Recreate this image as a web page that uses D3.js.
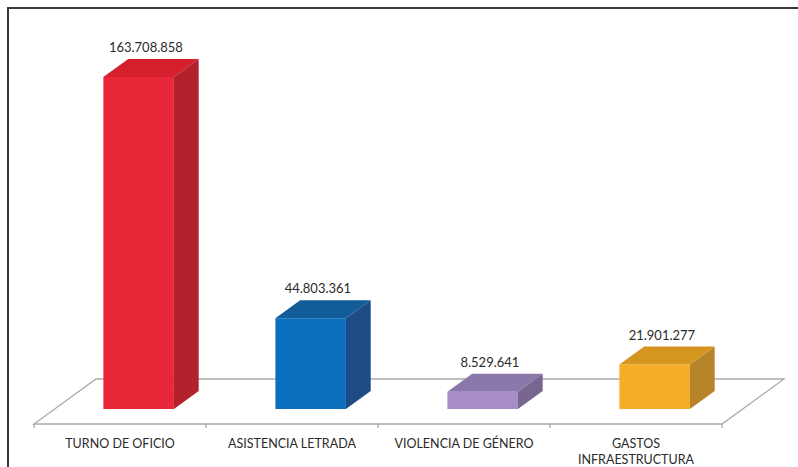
<!DOCTYPE html>
<html>
<head>
<meta charset="utf-8">
<script src="https://cdn.jsdelivr.net/npm/d3@7"></script>
<style>
  body { margin: 0; background: #fff; }
  svg { display: block; font-family: Lato, "Liberation Sans", sans-serif; }
</style>
</head>
<body>
<div id="chart-area"></div>
<script>
var categories = ["TURNO DE OFICIO", "ASISTENCIA LETRADA", "VIOLENCIA DE GÉNERO", "GASTOS INFRAESTRUCTURA"];
var labelLines = [["TURNO DE OFICIO"], ["ASISTENCIA LETRADA"], ["VIOLENCIA DE GÉNERO"], ["GASTOS", "INFRAESTRUCTURA"]];
var values = [163708858, 44803361, 8529641, 21901277];
var valueLabels = ["163.708.858", "44.803.361", "8.529.641", "21.901.277"];
var frontColors = ["#e82838", "#0a6fbd", "#a68dc6", "#f6ae28"];
var topColors = ["#d51f2c", "#125c99", "#8a78aa", "#d4961e"];
var sideColors = ["#b3222c", "#1e4a86", "#776690", "#b8842a"];

var width = 798;
var height = 467;

var svg = d3.select('#chart-area')
    .append('svg')
        .attr('width', width)
        .attr('height', height);

// outer frame (only top and left edges are visible in the crop)
svg.append("rect")
    .attr("x", 8).attr("y", 8)
    .attr("width", 900).attr("height", 600)
    .attr("fill", "none")
    .attr("stroke", "#3a3a3a")
    .attr("stroke-width", 2);

// floor geometry
var baseY = 424;       // front edge of the floor
var depthX = 62;       // horizontal shift for full depth
var depthY = 45;       // vertical shift for full depth

var x = d3.scaleBand()
    .domain(categories)
    .range([34, 722])
    .padding(0);

var y = d3.scaleLinear()
    .domain([0, 180000000])
    .range([0, 365]);

var z = d3.scaleLinear().domain([0, 1]).range([0, 1]);

function proj(px, h, d) {
    return [px + z(d) * depthX, baseY - h - z(d) * depthY];
}
function poly(pts) {
    return pts.map(function (p) { return p.join(","); }).join(" ");
}

var x0 = x.range()[0], x1 = x.range()[1];

// floor
svg.append("polygon")
    .attr("points", poly([proj(x0, 0, 0), proj(x1, 0, 0), proj(x1, 0, 1), proj(x0, 0, 1)]))
    .attr("fill", "#fff")
    .attr("stroke", "#a9a9a9")
    .attr("stroke-width", 1.3);

// ticks on the front edge
var tickPos = categories.map(function (c) { return x(c); }).concat([x1]);
svg.selectAll(".tick")
    .data(tickPos)
    .enter().append("line")
        .attr("class", "tick")
        .attr("x1", function (d) { return d; })
        .attr("x2", function (d) { return d; })
        .attr("y1", baseY)
        .attr("y2", baseY + 4)
        .attr("stroke", "#a9a9a9")
        .attr("stroke-width", 1.3);

var barW = x.bandwidth() * 0.41;
var z0 = 0.333, z1 = 0.733;

var bars = svg.selectAll(".bar")
    .data(values)
    .enter().append("g")
        .attr("class", "bar");

bars.each(function (v, i) {
    var g = d3.select(this);
    var xl = x(categories[i]) + (x.bandwidth() - barW) / 2 - 2;
    var xr = xl + barW;
    var h = y(v);

    g.append("polygon")
        .attr("points", poly([proj(xl, 0, z0), proj(xr, 0, z0), proj(xr, h, z0), proj(xl, h, z0)]))
        .attr("fill", frontColors[i]);
    g.append("polygon")
        .attr("points", poly([proj(xl, h, z0), proj(xr, h, z0), proj(xr, h, z1), proj(xl, h, z1)]))
        .attr("fill", topColors[i]);
    g.append("polygon")
        .attr("points", poly([proj(xr, 0, z0), proj(xr, 0, z1), proj(xr, h, z1), proj(xr, h, z0)]))
        .attr("fill", sideColors[i]);

    var lp = proj((xl + xr) / 2, h, 0.45);
    g.append("text")
        .attr("x", lp[0])
        .attr("y", proj(xl, h, z1)[1] - 7)
        .attr("text-anchor", "middle")
        .attr("font-size", "13px")
        .attr("fill", "#2b2b2b")
        .text(valueLabels[i]);
});

// category labels
svg.selectAll(".cat")
    .data(categories)
    .enter().append("text")
        .attr("class", "cat")
        .attr("x", function (d) { return x(d) + x.bandwidth() / 2; })
        .attr("y", 448)
        .attr("text-anchor", "middle")
        .attr("font-size", "12.5px")
        .attr("fill", "#2b2b2b")
        .each(function (d, i) {
            var t = d3.select(this);
            labelLines[i].forEach(function (line, k) {
                t.append("tspan")
                    .attr("x", x(d) + x.bandwidth() / 2)
                    .attr("dy", k === 0 ? 0 : 16)
                    .text(line);
            });
        });
</script>
</body>
</html>
